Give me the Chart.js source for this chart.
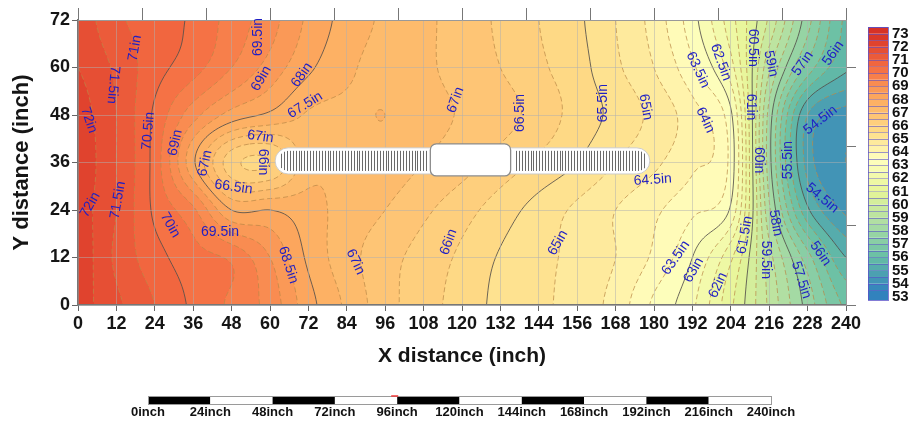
<!DOCTYPE html>
<html><head><meta charset="utf-8">
<script src="https://cdn.jsdelivr.net/npm/chart.js@4.4.1/dist/chart.umd.min.js"></script>
<style>html,body{margin:0;padding:0;background:#fff;}#wrap{width:910px;height:421px;}</style>
</head><body><div id="wrap"><canvas id="c" width="910" height="421"></canvas></div>
<script>
// ---------------- DATA ----------------
const xPositions = [0,12,24,36,48,60,72,84,96,108,120,132,144,156,168,180,192,204,216,228,240];
const yPositions = [0,12,24,36,48,60,72];
const tempAtY0  = [72.2,71.6,71.0,70.4,69.9,69.3,68.2,67.4,66.7,66.2,65.8,65.35,65.1,64.8,64.3,63.4,62.6,61.1,59.4,57.8,56.4];
const tempAtY12 = [72.3,71.4,70.7,70.2,69.9,69.0,67.9,67.2,66.7,66.3,65.9,65.45,65.15,64.85,64.5,63.9,63.0,61.6,59.2,57.2,55.5];
const tempAtY24 = [72.2,71.5,70.4,69.6,68.0,68.0,67.7,67.3,67.0,66.6,66.2,65.75,65.3,64.9,64.5,64.1,63.6,62.9,58.6,55.6,54.4];
const tempAtY36 = [72.3,71.5,70.3,68.1,66.2,66.0,67.3,67.4,67.3,67.0,66.7,66.3,65.9,65.5,65.0,64.6,64.1,63.3,58.2,54.8,54.0];
const tempAtY48 = [72.2,71.5,70.4,69.2,68.3,67.9,67.45,67.4,67.5,67.2,66.95,66.7,66.3,65.8,65.35,64.85,64.2,63.1,58.3,55.0,54.3];
const tempAtY60 = [72.0,71.4,70.7,70.2,69.5,68.8,68.1,67.6,67.3,67.1,66.8,66.5,66.1,65.7,65.1,64.5,63.6,62.2,59.1,56.8,55.6];
const tempAtY72 = [71.8,71.1,70.8,70.4,69.8,69.2,68.4,67.8,67.4,67.1,66.8,66.4,66.0,65.6,65.0,64.3,63.2,61.7,59.9,57.7,55.9];
const tempRows = [tempAtY0,tempAtY12,tempAtY24,tempAtY36,tempAtY48,tempAtY60,tempAtY72];

const xTickStep = 12, yTickStep = 12, frameTickStep = 20;
const colorbarTicks = [73,72,71,70,69,68,67,66,65,64,63,62,61,60,59,58,57,56,55,54,53];
const contourStep = 0.5;
const solidLevels = [55.5,58,60.5,63,65.5,68,70.5,73];

// obstruction (data units, inches)
const barX = [61.6, 178.7];
const barY = [33.1, 39.7];
const boxX = [110.1, 135.2];
const boxY = [32.6, 40.7];

// contour labels
const labelText = ['71in','71.5in','72in','70.5in','69in','67in','67in','66in','66.5in','69.5in','69in','68in','67.5in',
  '72in','71.5in','70in','69.5in','68.5in','67in','66in','67in','66.5in','65.5in','65in','64.5in','63.5in','64in','62.5in',
  '60.5in','59in','57in','56in','61in','60in','55.5in','54.5in','54.5in','65in','63.5in','63in','62in','61.5in','59.5in','58in','57.5in','56in'];
const labelX = [17.8,11.0,3.4,22.0,30.4,39.7,57.0,57.8,48.6,56.3,57.3,70.0,71.0,
  3.8,12.5,28.8,44.4,65.7,86.7,115.8,118.0,138.3,164.0,177.4,179.6,193.7,196.0,200.9,
  211.0,216.5,226.5,236.0,210.3,212.8,222.0,232.0,232.5,150.0,186.8,192.4,200.0,208.4,215.0,218.0,226.0,232.0];
const labelY = [64.9,55.6,46.7,44.0,41.0,35.8,42.5,36.1,29.8,67.7,57.2,58.1,50.5,
  25.3,26.5,20.2,18.4,10.1,10.9,15.9,51.8,48.5,51.0,50.0,31.6,59.4,46.7,61.3,
  65.0,61.0,61.0,63.6,50.0,36.6,36.6,46.7,27.0,15.7,11.9,8.8,5.0,17.7,11.4,20.7,6.3,13.0];
const labelAngle = [-80,95,72,-85,-78,-78,8,90,8,-90,-60,-55,-32,
  -60,-80,60,0,72,65,-70,-70,-90,-90,80,-4,65,65,70,
  90,78,-55,-55,90,90,-90,-38,40,-60,-55,-60,-65,-80,90,80,72,55];

const scaleBarLabels = ['0inch','24inch','48inch','72inch','96inch','120inch','144inch','168inch','192inch','216inch','240inch'];

// ---------------- STYLE HELPERS ----------------
const colorStops = [[53.5,[50,130,189]],[56,[102,190,165]],[58.5,[171,221,164]],[61,[230,245,152]],[63.5,[255,255,191]],
  [65.5,[254,222,137]],[68,[253,172,96]],[70.5,[244,108,66]],[73,[215,50,38]]];
function colorAt(v){
  if (v<=colorStops[0][0]) return colorStops[0][1];
  for (let k=0;k<colorStops.length-1;k++){
    const [v0,c0]=colorStops[k],[v1,c1]=colorStops[k+1];
    if (v<=v1){const t=(v-v0)/(v1-v0);return [0,1,2].map(q=>Math.round(c0[q]+(c1[q]-c0[q])*t));}
  }
  return colorStops[colorStops.length-1][1];
}
function bandColor(k){ return colorAt((k+0.5)*contourStep); }
function cr(p0,p1,p2,p3,t){return p1+0.5*t*(p2-p0+t*(2*p0-5*p1+4*p2-p3+t*(3*(p1-p2)+p3-p0)));}

const CASES = {1:[['l','b']],2:[['b','r']],3:[['l','r']],4:[['t','r']],5:[['t','r'],['l','b']],6:[['t','b']],7:[['t','l']],
  8:[['t','l']],9:[['t','b']],10:[['t','l'],['b','r']],11:[['t','r']],12:[['l','r']],13:[['b','r']],14:[['l','b']]};

function traceContours(F,nx,ny,L){
  const segA=[],segB=[],pt=new Map(),adj=new Map();
  const addAdj=(k,s)=>{let l=adj.get(k);if(!l){l=[];adj.set(k,l);}l.push(s);};
  for(let j=0;j<ny-1;j++){for(let i=0;i<nx-1;i++){
    const a=F[j*nx+i],b=F[j*nx+i+1],c=F[(j+1)*nx+i+1],d=F[(j+1)*nx+i];
    const idx=(a>=L?8:0)|(b>=L?4:0)|(c>=L?2:0)|(d>=L?1:0);
    if(idx===0||idx===15)continue;
    for(const pr of CASES[idx]){
      const ks=pr.map(e=>{
        let key,p;
        if(e==='t'){key=(j*nx+i)*2;p=[i+(L-a)/(b-a),j];}
        else if(e==='b'){key=((j+1)*nx+i)*2;p=[i+(L-d)/(c-d),j+1];}
        else if(e==='l'){key=(j*nx+i)*2+1;p=[i,j+(L-a)/(d-a)];}
        else {key=(j*nx+i+1)*2+1;p=[i+1,j+(L-b)/(c-b)];}
        if(!pt.has(key))pt.set(key,p);return key;});
      const s=segA.length;segA.push(ks[0]);segB.push(ks[1]);addAdj(ks[0],s);addAdj(ks[1],s);
    }
  }}
  const used=new Uint8Array(segA.length),lines=[];
  const nextFrom=k=>{for(const s of adj.get(k))if(!used[s])return s;return -1;};
  for(let s0=0;s0<segA.length;s0++){
    if(used[s0])continue;used[s0]=1;
    const fwd=[segA[s0],segB[s0]];let cur=segB[s0],s;
    while((s=nextFrom(cur))>=0){used[s]=1;cur=segA[s]===cur?segB[s]:segA[s];fwd.push(cur);}
    cur=segA[s0];const back=[];
    while((s=nextFrom(cur))>=0){used[s]=1;cur=segA[s]===cur?segB[s]:segA[s];back.push(cur);}
    lines.push(back.reverse().concat(fwd).map(k=>pt.get(k)));
  }
  return lines;
}

function buildLayer(chart){
  const a=chart.chartArea,xs=chart.scales.x,ys=chart.scales.y;
  const W=Math.round(a.right-a.left),H=Math.round(a.bottom-a.top);
  const pts=chart.data.datasets[0].data;
  const gx=[...new Set(pts.map(p=>p.x))].sort((p,q)=>p-q);
  const gy=[...new Set(pts.map(p=>p.y))].sort((p,q)=>p-q);
  const nx=gx.length,ny=gy.length,G=new Float64Array(nx*ny);
  pts.forEach(p=>{G[gy.indexOf(p.y)*nx+gx.indexOf(p.x)]=p.v;});
  const dx=gx[1]-gx[0],dy=gy[1]-gy[0];
  const g=(i,j)=>G[Math.min(ny-1,Math.max(0,j))*nx+Math.min(nx-1,Math.max(0,i))];
  const field=(xv,yv)=>{
    const fx=(xv-gx[0])/dx,fy=(yv-gy[0])/dy;
    const i=Math.min(nx-2,Math.max(0,Math.floor(fx))),j=Math.min(ny-2,Math.max(0,Math.floor(fy)));
    const tx=fx-i,ty=fy-j,r=[];
    for(let k=0;k<4;k++){const jj=j-1+k;r.push(cr(g(i-1,jj),g(i,jj),g(i+1,jj),g(i+2,jj),tx));}
    return cr(r[0],r[1],r[2],r[3],ty);
  };
  const cv=document.createElement('canvas');cv.width=W;cv.height=H;
  const c2=cv.getContext('2d');const img=c2.createImageData(W,H);const D=img.data;
  const xcol=[];for(let px=0;px<W;px++)xcol.push(xs.getValueForPixel(a.left+px+0.5));
  const cache={};
  for(let py=0;py<H;py++){
    const yv=ys.getValueForPixel(a.top+py+0.5);
    for(let px=0;px<W;px++){
      const v=field(xcol[px],yv);const k=Math.floor(v/contourStep);
      const col=cache[k]||(cache[k]=bandColor(k));
      const o=(py*W+px)*4;D[o]=col[0];D[o+1]=col[1];D[o+2]=col[2];D[o+3]=255;
    }
  }
  c2.putImageData(img,0,0);
  // contour lines
  const s=2,nnx=Math.floor(W/s)+1,nny=Math.floor(H/s)+1,F=new Float64Array(nnx*nny);
  for(let j=0;j<nny;j++){const yv=ys.getValueForPixel(a.top+j*s);
    for(let i=0;i<nnx;i++)F[j*nnx+i]=field(xs.getValueForPixel(a.left+i*s),yv);}
  let mn=Infinity,mx=-Infinity;for(const v of F){if(v<mn)mn=v;if(v>mx)mx=v;}
  c2.lineWidth=1;c2.lineJoin='round';
  for(let L=Math.ceil(mn/contourStep)*contourStep;L<=mx;L+=contourStep){
    const lev=Math.round(L*2)/2;
    const solid=solidLevels.includes(lev);
    const lines=traceContours(F,nnx,nny,lev+1e-9);
    if(solid){c2.setLineDash([]);c2.strokeStyle='rgba(85,80,75,0.85)';}
    else{c2.setLineDash([5,3]);c2.strokeStyle='rgba(185,135,70,0.7)';}
    for(const ln of lines){
      c2.beginPath();ln.forEach((p,q)=>{const X=p[0]*s,Y=p[1]*s;q?c2.lineTo(X,Y):c2.moveTo(X,Y);});c2.stroke();
    }
  }
  return {cv,W,H};
}

const heatPlugin={
  id:'heat',
  beforeDraw(chart){
    const a=chart.chartArea;
    const W=Math.round(a.right-a.left),H=Math.round(a.bottom-a.top);
    if(!chart.$heat||chart.$heat.W!==W||chart.$heat.H!==H)chart.$heat=buildLayer(chart);
    chart.ctx.drawImage(chart.$heat.cv,a.left,a.top);
  },
  afterDatasetsDraw(chart){
    const ctx=chart.ctx,xs=chart.scales.x,ys=chart.scales.y;
    // obstruction capsule
    const L=xs.getPixelForValue(barX[0]),R=xs.getPixelForValue(barX[1]);
    const T=ys.getPixelForValue(barY[1]),B=ys.getPixelForValue(barY[0]);
    const r=(B-T)/2,cy=(T+B)/2;
    const bL=xs.getPixelForValue(boxX[0]),bR=xs.getPixelForValue(boxX[1]);
    const bT=ys.getPixelForValue(boxY[1]),bB=ys.getPixelForValue(boxY[0]);
    ctx.save();
    ctx.beginPath();ctx.roundRect(L,T,R-L,B-T,r);ctx.fillStyle='#fff';ctx.fill();
    ctx.lineWidth=1;ctx.strokeStyle='rgba(200,200,200,0.9)';ctx.stroke();
    const ri=r-3;
    ctx.strokeStyle='#6a6a6a';ctx.lineWidth=1;
    for(let px=L+6;px<R-5;px+=2.9){
      if(px>bL-3&&px<bR+3)continue;
      let hl=ri;
      const cl=L+r, crr=R-r;
      if(px<cl){const d=cl-px;hl=Math.sqrt(Math.max(0,ri*ri-d*d));}
      if(px>crr){const d=px-crr;hl=Math.sqrt(Math.max(0,ri*ri-d*d));}
      if(hl<2)continue;
      const xx=Math.round(px)+0.5;
      ctx.beginPath();ctx.moveTo(xx,cy-hl);ctx.lineTo(xx,cy+hl);ctx.stroke();
    }
    ctx.beginPath();ctx.roundRect(bL,bT,bR-bL,bB-bT,6);ctx.fillStyle='#fff';ctx.fill();
    ctx.lineWidth=1.3;ctx.strokeStyle='#8c8c8c';ctx.stroke();
    // contour labels
    ctx.fillStyle='#1f1fc4';ctx.font='14px "Liberation Sans", Arial, sans-serif';
    ctx.textAlign='center';ctx.textBaseline='middle';
    for(let k=0;k<labelText.length;k++){
      ctx.save();ctx.translate(xs.getPixelForValue(labelX[k]),ys.getPixelForValue(labelY[k]));
      ctx.rotate(labelAngle[k]*Math.PI/180);ctx.fillText(labelText[k],0,0);ctx.restore();
    }
    ctx.restore();
  },
  afterDraw(chart){
    const ctx=chart.ctx,a=chart.chartArea;
    ctx.save();
    // colorbar
    const bx=a.right+22,bw=20,top=a.top+7,bot=a.bottom-5;
    const vTop=73.5,vBot=52.75;
    const pv=v=>top+(vTop-v)/(vTop-vBot)*(bot-top);
    for(let v=53;v<vTop;v+=contourStep){
      const y0=pv(v+contourStep),y1=Math.min(bot,pv(v-(v===53?0.25:0)));
      ctx.fillStyle='rgb('+colorAt(v+0.25).join(',')+')';
      ctx.fillRect(bx,y0,bw,y1-y0);
      ctx.strokeStyle='rgba(90,80,200,0.6)';ctx.lineWidth=1;
      ctx.beginPath();ctx.moveTo(bx,Math.round(y0)+0.5);ctx.lineTo(bx+bw,Math.round(y0)+0.5);ctx.stroke();
    }
    ctx.strokeStyle='rgba(90,80,200,0.75)';ctx.strokeRect(bx+0.5,top+0.5,bw,bot-top);
    ctx.fillStyle='#111';ctx.font='bold 15px "Liberation Sans Narrow","Arial Narrow","Liberation Sans",sans-serif';
    ctx.textAlign='left';ctx.textBaseline='middle';
    colorbarTicks.forEach(t=>ctx.fillText(String(t),bx+bw+4,pv(t)));
    // scale bar
    const sx0=a.left+70,sx1=a.left+693,sy=396,sh=8,n=scaleBarLabels.length-1;
    for(let k=0;k<n;k++){
      const x0=sx0+(sx1-sx0)*k/n,x1=sx0+(sx1-sx0)*(k+1)/n;
      ctx.fillStyle=k%2===0?'#000':'#fff';ctx.fillRect(x0,sy,x1-x0,sh);
    }
    ctx.strokeStyle='#9a9a9a';ctx.lineWidth=1;ctx.strokeRect(sx0+0.5,sy+0.5,sx1-sx0,sh);
    ctx.strokeStyle='#f03a3a';ctx.lineWidth=1.5;const xm=sx0+(sx1-sx0)*4/n;
    ctx.beginPath();ctx.moveTo(xm-6,sy);ctx.lineTo(xm+1,sy);ctx.stroke();
    ctx.fillStyle='#111';ctx.font='bold 13px "Liberation Sans", Arial, sans-serif';ctx.textAlign='center';
    scaleBarLabels.forEach((t,k)=>ctx.fillText(t,sx0+(sx1-sx0)*k/n,sy+sh+8));
    ctx.restore();
  }
};

const points=[];
yPositions.forEach((yv,j)=>xPositions.forEach((xv,i)=>points.push({x:xv,y:yv,v:tempRows[j][i]})));

const tickFont={family:'"Liberation Sans Narrow","Arial Narrow","Liberation Sans",sans-serif',size:18,weight:'bold'};
const gridCol='rgba(175,175,175,0.5)';

new Chart(document.getElementById('c'),{
  type:'scatter',
  data:{datasets:[{data:points,pointRadius:0,pointHoverRadius:0,showLine:false}]},
  options:{
    responsive:false,animation:false,devicePixelRatio:1,events:[],
    layout:{padding:{left:0,right:54,top:8,bottom:52}},
    plugins:{legend:{display:false},tooltip:{enabled:false}},
    scales:{
      x:{type:'linear',position:'bottom',min:xPositions[0],max:xPositions[xPositions.length-1],
        ticks:{stepSize:xTickStep,font:tickFont,color:'#151515',padding:2,maxRotation:0,autoSkip:false},
        grid:{color:gridCol,tickColor:'#666',tickLength:6},
        border:{color:'#777',width:1.5},
        title:{display:true,text:'X distance (inch)',color:'#151515',font:{family:'"Liberation Sans",Arial,sans-serif',size:21,weight:'bold'},padding:{top:0,bottom:0}},
        afterFit(s){s.height=64;}},
      y:{type:'linear',position:'left',min:yPositions[0],max:yPositions[yPositions.length-1],
        ticks:{stepSize:yTickStep,font:tickFont,color:'#151515',padding:2,autoSkip:false},
        grid:{color:gridCol,tickColor:'#666',tickLength:6},
        border:{color:'#777',width:1.5},
        title:{display:true,text:'Y distance (inch)',color:'#151515',font:{family:'"Liberation Sans",Arial,sans-serif',size:22,weight:'bold'},padding:{top:9,bottom:0}},
        afterFit(s){s.width=78;}},
      x2:{type:'linear',position:'top',min:xPositions[0],max:xPositions[xPositions.length-1],
        ticks:{stepSize:frameTickStep,display:false,includeBounds:false},
        grid:{drawOnChartArea:false,color:'#777',tickLength:12},
        border:{color:'#999',width:1},afterFit(s){s.height=12;}},
      y2:{type:'linear',position:'right',min:yPositions[0],max:yPositions[yPositions.length-1],
        ticks:{stepSize:frameTickStep,display:false,includeBounds:false},
        grid:{drawOnChartArea:false,color:'#777',tickLength:10},
        border:{color:'#999',width:1},afterFit(s){s.width=10;}}
    }
  },
  plugins:[heatPlugin]
});
</script></body></html>
